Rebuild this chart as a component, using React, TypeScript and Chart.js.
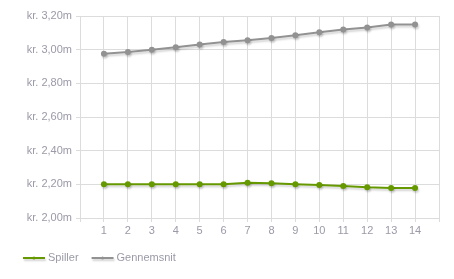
import React, { useEffect, useRef } from "react";
import { Chart, registerables } from "chart.js";

Chart.register(...registerables);

// Round numbers 1..14
const rounds = [1, 2, 3, 4, 5, 6, 7, 8, 9, 10, 11, 12, 13, 14];
// Player value in millions (kr.)
const spiller = [2.2, 2.2, 2.2, 2.2, 2.2, 2.2, 2.21, 2.206, 2.2, 2.196, 2.19, 2.182, 2.178, 2.178];
// Average value in millions (kr.)
const gennemsnit = [2.976, 2.986, 3.0, 3.015, 3.03, 3.045, 3.056, 3.07, 3.086, 3.104, 3.12, 3.132, 3.15, 3.15];
const yTicks = [2.0, 2.2, 2.4, 2.6, 2.8, 3.0, 3.2];

const GREEN = "#669900";
const GRAY = "#929292";
const LABEL = "#9a9aa8";
const GRID = "#dcdcdc";
const FONT = "'Liberation Sans', Arial, sans-serif";
const FONT_SIZE = 11;

// Soft drop shadow under each series line
const shadowPlugin = {
  id: "lineShadow",
  beforeDatasetDraw(chart: any) {
    const ctx = chart.ctx;
    ctx.save();
    ctx.shadowColor = "rgba(0,0,0,0.18)";
    ctx.shadowOffsetX = 1;
    ctx.shadowOffsetY = 2;
    ctx.shadowBlur = 2;
  },
  afterDatasetDraw(chart: any) {
    chart.ctx.restore();
  },
};

// Legend row under the chart: short line with a dot, then the series name
const legendPlugin = {
  id: "seriesLegend",
  afterDraw(chart: any) {
    const ctx = chart.ctx;
    ctx.save();
    ctx.font = `${FONT_SIZE}px ${FONT}`;
    ctx.textBaseline = "middle";
    let x = 23;
    const y = 258;
    chart.data.datasets.forEach((d: any) => {
      const w = 22;
      ctx.save();
      ctx.shadowColor = "rgba(0,0,0,0.18)";
      ctx.shadowOffsetX = 1;
      ctx.shadowOffsetY = 2;
      ctx.shadowBlur = 2;
      ctx.strokeStyle = d.borderColor;
      ctx.lineWidth = 2;
      ctx.beginPath();
      ctx.moveTo(x, y);
      ctx.lineTo(x + w, y);
      ctx.stroke();
      ctx.restore();
      ctx.fillStyle = d.borderColor;
      ctx.beginPath();
      ctx.arc(x + w / 2, y, 1.5, 0, Math.PI * 2);
      ctx.fill();
      ctx.fillStyle = LABEL;
      ctx.fillText(d.label, x + w + 3, y);
      x += w + 3 + ctx.measureText(d.label).width + 13;
    });
    ctx.restore();
  },
};

export default function App() {
  const ref = useRef<HTMLCanvasElement>(null);

  useEffect(() => {
    const toPts = (arr: number[]) => arr.map((v, i) => ({ x: rounds[i], y: v }));
    const chart = new Chart(ref.current!, {
      type: "line",
      data: {
        datasets: [
          {
            label: "Spiller",
            data: toPts(spiller),
            borderColor: GREEN,
            backgroundColor: GREEN,
            borderWidth: 2,
            pointRadius: 3,
            pointBorderWidth: 0,
          },
          {
            label: "Gennemsnit",
            data: toPts(gennemsnit),
            borderColor: GRAY,
            backgroundColor: GRAY,
            borderWidth: 2,
            pointRadius: 3,
            pointBorderWidth: 0,
          },
        ],
      },
      options: {
        animation: false,
        responsive: false,
        layout: { padding: { left: 0, right: 15, top: 16, bottom: 37 } },
        plugins: {
          tooltip: { enabled: false },
          legend: { display: false },
        },
        scales: {
          x: {
            type: "linear",
            min: 0,
            max: 15,
            afterBuildTicks: (s: any) => {
              s.ticks = Array.from({ length: 16 }, (_, i) => ({ value: i }));
            },
            afterFit: (s: any) => {
              s.height = 24;
            },
            ticks: {
              autoSkip: false,
              maxRotation: 0,
              padding: 2,
              font: { family: FONT, size: FONT_SIZE },
              color: LABEL,
              callback: (v: any) => (v >= 1 && v <= 14 ? String(v) : ""),
            },
            grid: { color: GRID, tickLength: 4, tickColor: GRID },
            border: { color: GRID },
          },
          y: {
            min: 2.0,
            max: 3.2,
            afterBuildTicks: (s: any) => {
              s.ticks = yTicks.map((v) => ({ value: v }));
            },
            afterFit: (s: any) => {
              s.width = 80;
            },
            ticks: {
              font: { family: FONT, size: FONT_SIZE },
              color: LABEL,
              padding: 4,
              callback: (v: any) => "kr. " + Number(v).toFixed(2).replace(".", ",") + "m",
            },
            grid: { color: GRID, tickLength: 4, tickColor: GRID },
            border: { color: GRID },
          },
        },
      },
      plugins: [shadowPlugin, legendPlugin],
    });
    return () => chart.destroy();
  }, []);

  return (
    <div style={{ position: "fixed", left: 0, top: 0, width: 454, height: 279, background: "#fff" }}>
      <canvas ref={ref} width={454} height={279} />
    </div>
  );
}
